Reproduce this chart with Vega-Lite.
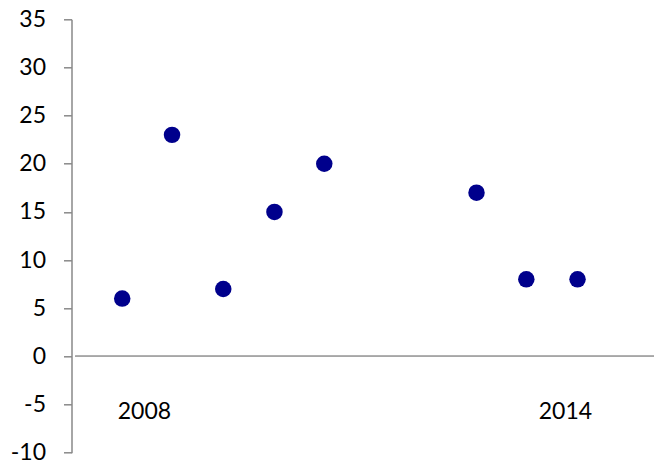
{
  "$schema": "https://vega.github.io/schema/vega-lite/v6.json",
  "width": 582.5,
  "height": 433.4,
  "autosize": {"type": "none"},
  "padding": {"left": 71.5, "top": 19.3, "right": 0, "bottom": 13.3},
  "background": "white",
  "config": {
    "view": {"stroke": null},
    "font": "Lato",
    "axis": {"labelFont": "Lato", "labelFontSize": 23, "labelColor": "#000000", "grid": false}
  },
  "data": {
    "values": [
      {"x": 2007.69, "y": 6},
      {"x": 2008.40, "y": 23},
      {"x": 2009.13, "y": 7},
      {"x": 2009.86, "y": 15},
      {"x": 2010.57, "y": 20},
      {"x": 2012.74, "y": 17},
      {"x": 2013.45, "y": 8},
      {"x": 2014.18, "y": 8}
    ]
  },
  "layer": [
    {
      "mark": {"type": "rule", "color": "#a6a6a6", "strokeWidth": 1.2},
      "encoding": {
        "y": {"datum": 0, "type": "quantitative"},
        "x": {"datum": 2007.02, "type": "quantitative"},
        "x2": {"datum": 2015.27}
      }
    },
    {
      "mark": {"type": "circle", "size": 272, "color": "#00008C", "opacity": 1},
      "encoding": {
        "x": {
          "field": "x",
          "type": "quantitative",
          "scale": {"domain": [2006.967, 2015.27], "nice": false, "zero": false},
          "axis": {
            "title": null,
            "values": [2008, 2014],
            "format": "d",
            "domain": false,
            "ticks": false,
            "offset": -41.2,
            "labelPadding": 0,
            "labelBaseline": "middle",
            "labelFlush": false
          }
        },
        "y": {
          "field": "y",
          "type": "quantitative",
          "scale": {"domain": [-10, 35], "nice": false, "zero": false},
          "axis": {
            "title": null,
            "values": [-10, -5, 0, 5, 10, 15, 20, 25, 30, 35],
            "labelExpr": "'' + datum.value",
            "domainColor": "#898989",
            "domainWidth": 1.5,
            "tickColor": "#898989",
            "tickWidth": 1.5,
            "tickSize": 8,
            "labelPadding": 18,
            "labelBaseline": "middle",
            "labelFlush": false
          }
        }
      }
    }
  ]
}
